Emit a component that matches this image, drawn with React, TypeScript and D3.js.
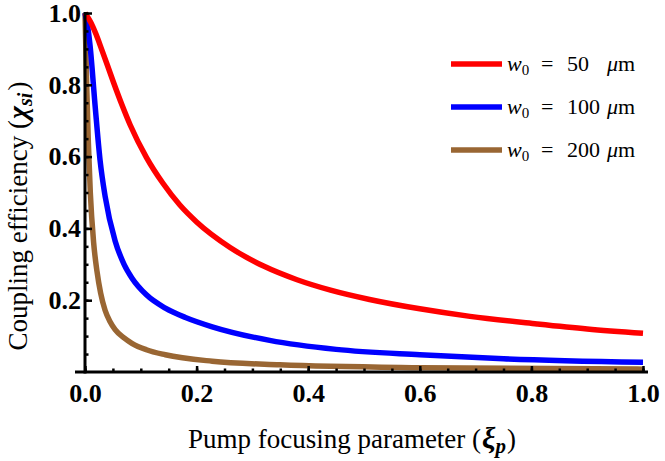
import React, { useEffect, useRef } from 'react';
import * as d3 from 'd3';

// values
const redX = [0, 0.01, 0.02, 0.03, 0.04, 0.051, 0.066, 0.081, 0.11, 0.14, 0.17, 0.2, 0.26, 0.32, 0.38, 0.44, 0.51, 0.6, 0.69, 0.81, 0.9, 1.0];
const redY = [1.0, 0.975, 0.94, 0.898, 0.855, 0.807, 0.745, 0.688, 0.598, 0.525, 0.465, 0.418, 0.347, 0.295, 0.257, 0.228, 0.202, 0.176, 0.155, 0.134, 0.12, 0.108];

const blueX = [0, 0.004, 0.009, 0.018, 0.027, 0.036, 0.054, 0.07, 0.084, 0.11, 0.144, 0.18, 0.228, 0.331, 0.45, 0.6, 0.75, 1.0];
const blueY = [1.0, 0.97, 0.91, 0.744, 0.59, 0.49, 0.365, 0.3, 0.262, 0.215, 0.178, 0.152, 0.126, 0.088, 0.063, 0.048, 0.037, 0.027];

const brownX = [0, 0.003, 0.006, 0.0095, 0.0155, 0.0215, 0.028, 0.036, 0.045, 0.054, 0.07, 0.084, 0.11, 0.144, 0.228, 0.349, 0.6, 1.0];
const brownY = [1.0, 0.8, 0.64, 0.5, 0.36, 0.28, 0.22, 0.172, 0.14, 0.118, 0.095, 0.08, 0.062, 0.048, 0.03, 0.02, 0.012, 0.008];

const seriesWaists = ['50', '100', '200'];
const seriesColors = ['#ff0000', '#0000ff', '#996633'];

const xTicks = [0, 0.2, 0.4, 0.6, 0.8, 1.0];
const yTicks = [0.2, 0.4, 0.6, 0.8, 1.0];

const serif = "'Liberation Serif', 'Times New Roman', serif";

const App: React.FC = () => {
    const chartRef = useRef<SVGSVGElement>(null);

    useEffect(() => {
        const svg = d3.select(chartRef.current);
        svg.selectAll("*").remove();

        const x = d3.scaleLinear().domain([0, 1]).range([85, 643]);
        const y = d3.scaleLinear().domain([0, 1]).range([372, 13]);

        const series = [
            redX.map((v, i) => [v, redY[i]]),
            blueX.map((v, i) => [v, blueY[i]]),
            brownX.map((v, i) => [v, brownY[i]]),
        ];

        const line = d3.line<number[]>()
            .x(d => x(d[0]))
            .y(d => y(d[1]))
            .curve(d3.curveMonotoneX);

        // wider waists first so red ends on top
        [2, 1, 0].forEach(i => {
            svg.append("path")
                .attr("d", line(series[i]) as string)
                .attr("fill", "none")
                .attr("stroke", seriesColors[i])
                .attr("stroke-width", 5.5);
        });

        const styleAxis = (g: d3.Selection<SVGGElement, unknown, null, undefined>) => {
            g.selectAll("text")
                .attr("font-family", serif)
                .attr("font-weight", "bold")
                .attr("font-size", 26)
                .attr("fill", "#000");
            g.selectAll("line").attr("stroke", "#000").attr("stroke-width", 2.5);
            g.select(".domain").remove();
        };

        // minor ticks
        svg.append("g")
            .attr("transform", `translate(0,${y(0)})`)
            .call(d3.axisBottom(x).tickValues(d3.range(0, 1.001, 0.05)).tickSize(-3.5).tickFormat(() => ""))
            .call(styleAxis);
        svg.append("g")
            .attr("transform", `translate(${x(0)},0)`)
            .call(d3.axisLeft(y).tickValues(d3.range(0.05, 1.001, 0.05)).tickSize(-3.5).tickFormat(() => ""))
            .call(styleAxis);

        // major ticks
        svg.append("g")
            .attr("transform", `translate(0,${y(0)})`)
            .call(d3.axisBottom(x).tickValues(xTicks).tickSize(-6).tickPadding(11.5).tickFormat(d3.format(".1f")))
            .call(styleAxis);
        svg.append("g")
            .attr("transform", `translate(${x(0)},0)`)
            .call(d3.axisLeft(y).tickValues(yTicks).tickSize(-7).tickPadding(4).tickFormat(d3.format(".1f")))
            .call(styleAxis);

        // axis lines
        svg.append("line")
            .attr("x1", 75).attr("x2", 648)
            .attr("y1", y(0)).attr("y2", y(0))
            .attr("stroke", "#000").attr("stroke-width", 3);
        svg.append("line")
            .attr("x1", x(0)).attr("x2", x(0))
            .attr("y1", y(1) - 1).attr("y2", y(0) + 1.5)
            .attr("stroke", "#000").attr("stroke-width", 3);

        // axis titles
        const xTitle = svg.append("text")
            .attr("x", 352).attr("y", 448)
            .attr("text-anchor", "middle")
            .attr("font-family", serif)
            .attr("font-size", 27);
        xTitle.append("tspan").text("Pump focusing parameter (");
        xTitle.append("tspan").attr("font-weight", "bold").attr("font-style", "italic")
            .attr("font-size", 30).attr("dx", 1).text("ξ");
        xTitle.append("tspan").attr("font-weight", "bold").attr("font-style", "italic")
            .attr("font-size", 21).attr("dy", 5).text("p");
        xTitle.append("tspan").attr("dy", -5).attr("dx", 1).text(")");

        const yTitle = svg.append("text")
            .attr("transform", "translate(27,216) rotate(-90)")
            .attr("text-anchor", "middle")
            .attr("font-family", serif)
            .attr("font-size", 27);
        yTitle.append("tspan").text("Coupling efficiency (");
        yTitle.append("tspan").attr("font-weight", "bold").attr("font-style", "italic")
            .attr("font-size", 28).attr("dx", 1).text("χ");
        yTitle.append("tspan").attr("font-weight", "bold").attr("font-style", "italic")
            .attr("font-size", 20).attr("dy", 5).text("si");
        yTitle.append("tspan").attr("dy", -5).attr("dx", 2).text(")");

        // legend
        const legendY = [64, 107, 150];
        seriesWaists.forEach((w, i) => {
            svg.append("line")
                .attr("x1", 451).attr("x2", 502)
                .attr("y1", legendY[i]).attr("y2", legendY[i])
                .attr("stroke", seriesColors[i])
                .attr("stroke-width", 5.5);
            const t = svg.append("text")
                .attr("y", legendY[i] + 7)
                .attr("font-family", serif)
                .attr("font-size", 22);
            t.append("tspan").attr("x", 507).attr("font-style", "italic").text("w");
            t.append("tspan").attr("font-size", 15).attr("dy", 4).text("0");
            t.append("tspan").attr("x", 541).attr("dy", -4).text("=");
            t.append("tspan").attr("x", 567).text(w);
            t.append("tspan").attr("x", 607).attr("font-style", "italic").text("μ");
            t.append("tspan").text("m");
        });
    }, []);

    return (
        <svg ref={chartRef} width="665" height="461"
            style={{ position: 'absolute', left: 0, top: 0, background: '#fff' }}></svg>
    );
};

export default App;
